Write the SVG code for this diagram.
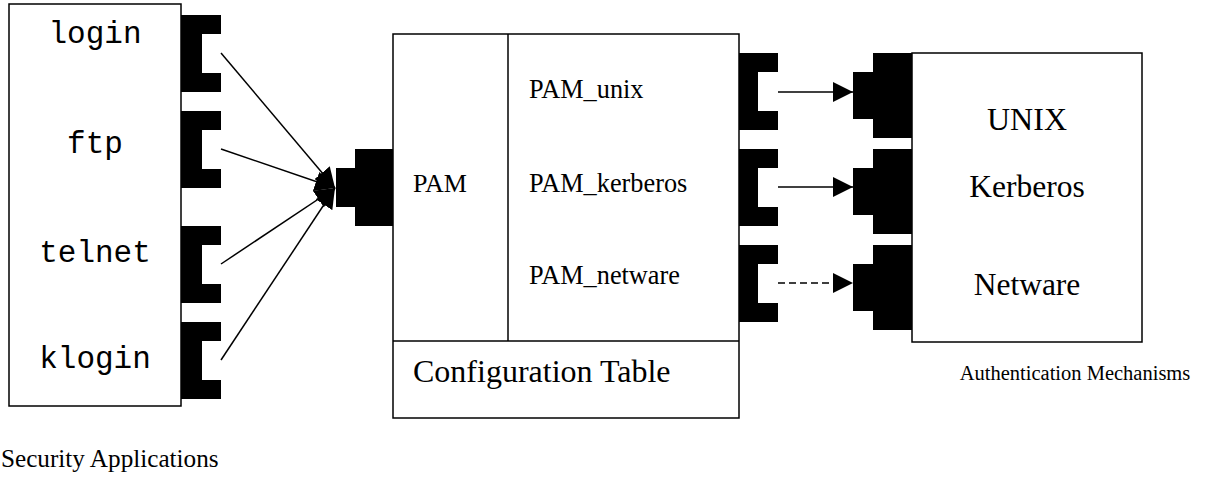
<svg xmlns="http://www.w3.org/2000/svg" width="1207" height="477" viewBox="0 0 1207 477">
  <style>
    .box { fill: #fff; stroke: #000; stroke-width: 1.5; }
    .blk { fill: #000; stroke: none; }
    .mono { font-family: "Liberation Mono", "Courier New", monospace; font-size: 31px; fill: #000; text-anchor: middle; }
    .serif { font-family: "Liberation Serif", "Times New Roman", serif; fill: #000; }
    .con { stroke: #000; stroke-width: 1.5; fill: none; }
  </style>
  <defs>
    <marker id="arr" markerUnits="userSpaceOnUse" markerWidth="20" markerHeight="20" refX="20" refY="10" orient="auto" viewBox="0 0 20 20">
      <path d="M0,0 L20,10 L0,20 Z" fill="#000"/>
    </marker>
  </defs>

  <g id="security-apps">
    <rect class="box" x="9" y="4" width="172" height="402" stroke-width="2"/>
    <path class="blk" d="M181,15 H221 V34 H202 V73 H221 V92 H181 Z"/>
    <path class="blk" d="M181,111 H221 V130 H202 V169 H221 V188 H181 Z"/>
    <path class="blk" d="M181,226 H221 V245 H202 V284 H221 V303 H181 Z"/>
    <path class="blk" d="M181,322 H221 V341 H202 V380 H221 V399 H181 Z"/>
    <text class="mono" x="95" y="43">login</text>
    <text class="mono" x="95" y="153">ftp</text>
    <text class="mono" x="95" y="262">telnet</text>
    <text class="mono" x="95" y="368">klogin</text>
  </g>
  <text class="serif" x="1" y="467" font-size="25.2">Security Applications</text>

  <g id="pam">
    <rect class="box" x="393" y="34" width="346" height="384"/>
    <line class="con" x1="393" y1="341" x2="739" y2="341"/>
    <line class="con" x1="508" y1="34" x2="508" y2="341"/>
    <path class="blk" d="M393,149 V226 H355 V207 H336 V168 H355 V149 Z"/>
    <path class="blk" d="M739,53 H778 V72 H758 V111 H778 V130 H739 Z"/>
    <path class="blk" d="M739,149 H778 V168 H758 V207 H778 V226 H739 Z"/>
    <path class="blk" d="M739,245 H778 V264 H758 V303 H778 V322 H739 Z"/>
    <text class="serif" x="413" y="192" font-size="26">PAM</text>
    <text class="serif" x="529" y="98" font-size="26.3">PAM_unix</text>
    <text class="serif" x="529" y="192" font-size="26.3">PAM_kerberos</text>
    <text class="serif" x="529" y="284" font-size="26.3">PAM_netware</text>
    <text class="serif" x="413" y="382" font-size="32">Configuration Table</text>
  </g>

  <g id="auth">
    <rect class="box" x="912" y="53" width="230" height="289"/>
    <path class="blk" d="M912,53 V138 H873 V119 H853 V72 H873 V53 Z"/>
    <path class="blk" d="M912,149 V234 H873 V215 H853 V168 H873 V149 Z"/>
    <path class="blk" d="M912,245 V330 H873 V311 H853 V264 H873 V245 Z"/>
    <text class="serif" x="1027" y="130" font-size="32" text-anchor="middle">UNIX</text>
    <text class="serif" x="1027" y="197" font-size="31.5" text-anchor="middle">Kerberos</text>
    <text class="serif" x="1027" y="295" font-size="31.5" text-anchor="middle">Netware</text>
  </g>
  <text class="serif" x="1075" y="380" font-size="20.5" text-anchor="middle">Authentication Mechanisms</text>

  <g id="connectors">
    <line class="con" x1="221" y1="53" x2="335" y2="188" marker-end="url(#arr)"/>
    <line class="con" x1="221" y1="149" x2="335" y2="188" marker-end="url(#arr)"/>
    <line class="con" x1="221" y1="264" x2="335" y2="188" marker-end="url(#arr)"/>
    <line class="con" x1="221" y1="360" x2="335" y2="188" marker-end="url(#arr)"/>
    <line class="con" x1="778" y1="92" x2="853" y2="92" marker-end="url(#arr)"/>
    <line class="con" x1="778" y1="187" x2="853" y2="187" marker-end="url(#arr)"/>
    <line class="con" x1="778" y1="283" x2="853" y2="283" stroke-dasharray="7 4" marker-end="url(#arr)"/>
  </g>
</svg>
